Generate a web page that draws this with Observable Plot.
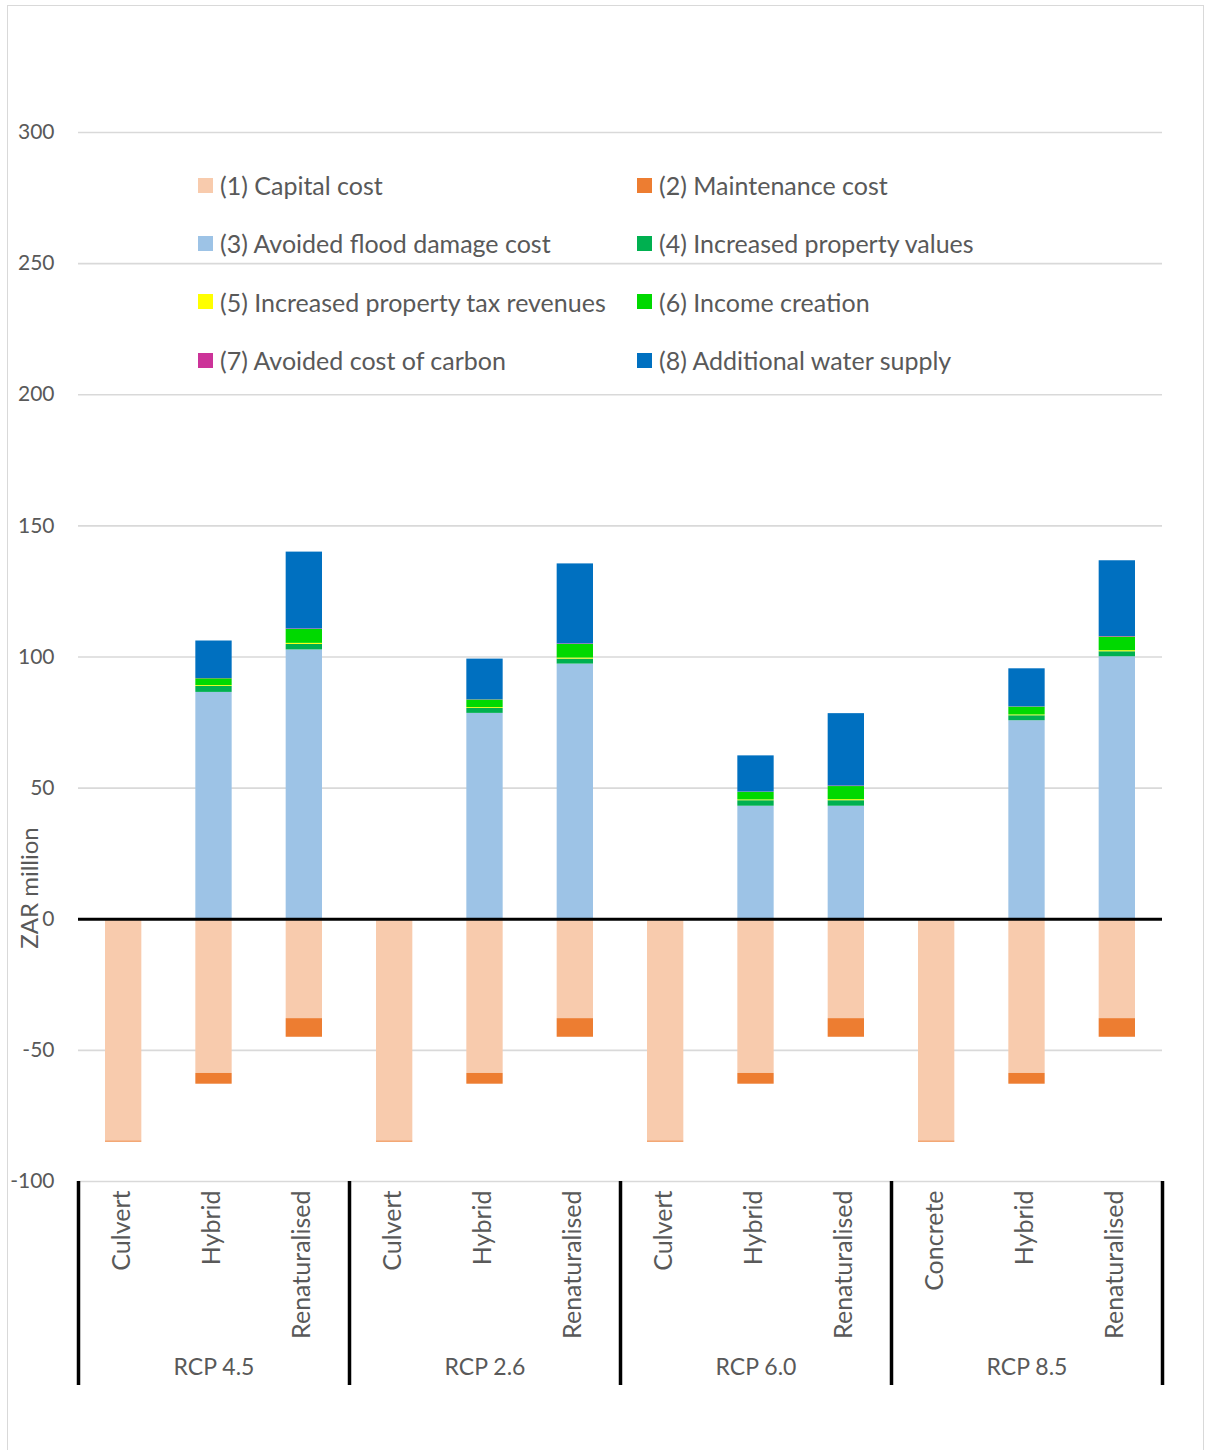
<!DOCTYPE html>
<html>
<head>
<meta charset="utf-8">
<script src="https://cdn.jsdelivr.net/npm/d3@7"></script>
<script src="https://cdn.jsdelivr.net/npm/@observablehq/plot@0.6"></script>
<style>
  html, body { margin: 0; padding: 0; background: #fff; }
  #chart { position: relative; width: 1206px; height: 1450px; overflow: hidden; font-family: Lato, "Open Sans", sans-serif; color: #595959; }
  #border { position: absolute; left: 7px; top: 5px; width: 1197px; height: 1470px; border: 1.5px solid #d9d9d9; box-sizing: border-box; }
  #legend { position: absolute; left: 198px; top: 156px; display: grid; grid-template-columns: 439px auto; grid-auto-rows: 58.3px; font-size: 25px; }
  .item { display: flex; align-items: center; white-space: nowrap; }
  .swatch { width: 15px; height: 15px; margin-right: 7px; flex: none; }
  #ylabel { position: absolute; left: 28px; top: 888px; transform: translate(-50%, -50%) rotate(-90deg); font-size: 24px; white-space: nowrap; }
  #plot { position: absolute; left: 0; top: 0; }
</style>
</head>
<body>
<div id="chart">
  <div id="border"></div>
  <div id="plot"></div>
  <div id="legend"></div>
  <div id="ylabel">ZAR million</div>
</div>
<script>
// Climate scenarios and the channel option assessed under each
const scenarios = ["RCP 4.5", "RCP 4.5", "RCP 4.5", "RCP 2.6", "RCP 2.6", "RCP 2.6",
                   "RCP 6.0", "RCP 6.0", "RCP 6.0", "RCP 8.5", "RCP 8.5", "RCP 8.5"];
const options = ["Culvert", "Hybrid", "Renaturalised", "Culvert", "Hybrid", "Renaturalised",
                 "Culvert", "Hybrid", "Renaturalised", "Concrete", "Hybrid", "Renaturalised"];

// Cost and benefit components, ZAR million (costs negative)
const capitalCost     = [-84.6, -58.8, -37.9, -84.6, -58.8, -37.9, -84.6, -58.8, -37.9, -84.6, -58.8, -37.9];
const maintenanceCost = [-0.4, -4.1, -7.1, -0.4, -4.1, -7.1, -0.4, -4.1, -7.1, -0.4, -4.1, -7.1];
const avoidedFlood    = [0, 86.5, 102.7, 0, 78.5, 97.3, 0, 43.1, 43.1, 0, 75.7, 100.1];
const propertyValues  = [0, 2.3, 2.1, 0, 1.9, 1.9, 0, 2.1, 2.1, 0, 1.9, 1.9];
const propertyTax     = [0, 0.3, 0.4, 0, 0.3, 0.4, 0, 0.3, 0.4, 0, 0.3, 0.4];
const incomeCreation  = [0, 2.6, 5.3, 0, 2.9, 5.2, 0, 2.9, 5.0, 0, 3.0, 5.2];
const avoidedCarbon   = [0, 0.1, 0.2, 0, 0.1, 0.2, 0, 0.1, 0.2, 0, 0.1, 0.2];
const waterSupply     = [0, 14.3, 29.3, 0, 15.5, 30.5, 0, 13.8, 27.6, 0, 14.5, 28.9];

const seriesNames = [
  "(1) Capital cost", "(2) Maintenance cost",
  "(3) Avoided flood damage cost", "(4) Increased property values",
  "(5) Increased property tax revenues", "(6) Income creation",
  "(7) Avoided cost of carbon", "(8) Additional water supply"
];
const seriesValues = [capitalCost, maintenanceCost, avoidedFlood, propertyValues,
                      propertyTax, incomeCreation, avoidedCarbon, waterSupply];
const seriesColors = ["#F8CBAD", "#ED7D31", "#9DC3E6", "#00B050",
                      "#FFFF00", "#00D900", "#CC3399", "#0070C0"];

const yTicks = [-100, -50, 0, 50, 100, 150, 200, 250, 300];

// Position of each option inside its scenario group (0, 1, 2)
const groups = Array.from(new Set(scenarios));
const slots = scenarios.map((g, i) => scenarios.slice(0, i).filter(s => s === g).length);
const slotCount = d3.max(slots) + 1;

const rows = [];
options.forEach((opt, i) => {
  seriesNames.forEach((name, k) => {
    const v = seriesValues[k][i];
    if (v !== 0) rows.push({group: scenarios[i], slot: slots[i], option: opt, series: name, value: v});
  });
});
const labels = options.map((opt, i) => ({group: scenarios[i], slot: slots[i], option: opt}));
// Group dividers on the category axis: left edge of every group plus the far right edge
const dividers = groups.map(g => ({group: g, pos: 0})).concat([{group: groups[groups.length - 1], pos: slotCount}]);

const ink = "#595959";

const chart = Plot.plot({
  width: 1206,
  height: 1450,
  marginLeft: 77,
  marginRight: 44,
  marginTop: 132,
  marginBottom: 269,
  style: {fontFamily: "Lato, 'Open Sans', sans-serif", fontSize: "21px", color: ink, background: "transparent", overflow: "visible"},
  fx: {domain: groups, padding: 0},
  x: {domain: [0, slotCount], axis: null},
  y: {domain: [-100, 300]},
  color: {domain: seriesNames, range: seriesColors},
  marks: [
    Plot.gridY(yTicks, {stroke: "#d9d9d9", strokeOpacity: 1, strokeWidth: 1.6}),
    Plot.rectY(rows, Plot.stackY({
      fx: "group",
      x1: "slot",
      x2: d => d.slot + 1,
      y: "value",
      fill: "series",
      insetLeft: 27,
      insetRight: 27
    })),
    Plot.ruleY([0], {stroke: "#000", strokeWidth: 3}),
    Plot.axisY(yTicks, {anchor: "left", tickSize: 0, tickPadding: 24, label: null, fontSize: 21, tickFormat: d => String(d)}),
    Plot.text(labels, {
      fx: "group",
      x: d => d.slot + 0.5,
      frameAnchor: "bottom",
      text: "option",
      rotate: -90,
      textAnchor: "end",
      dx: 6,
      dy: 9,
      fontSize: 25,
      fill: ink
    }),
    Plot.ruleX(dividers, {
      fx: "group",
      x: "pos",
      y1: -100,
      y2: -100,
      insetBottom: -204,
      stroke: "#000",
      strokeWidth: 3.5
    }),
    Plot.axisFx({anchor: "bottom", tickSize: 0, tickPadding: 177, label: null, fontSize: 23})
  ]
});
document.getElementById("plot").appendChild(chart);

// Two-column legend drawn over the upper part of the plot area
const legend = document.getElementById("legend");
seriesNames.forEach((name, k) => {
  const item = document.createElement("div");
  item.className = "item";
  const sw = document.createElement("span");
  sw.className = "swatch";
  sw.style.background = seriesColors[k];
  item.appendChild(sw);
  item.appendChild(document.createTextNode(name));
  legend.appendChild(item);
});
</script>
</body>
</html>
